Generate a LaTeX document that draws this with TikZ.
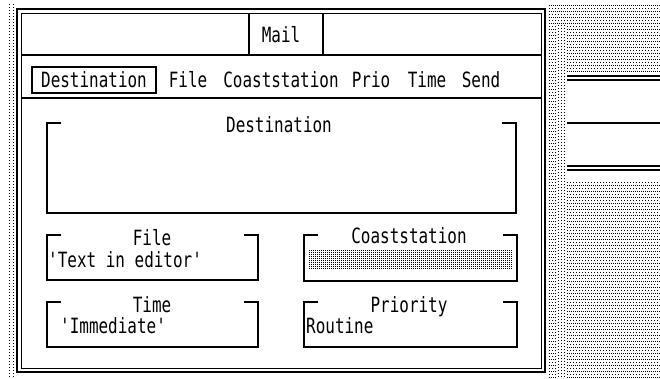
\documentclass[tikz,border=0pt]{standalone}
\usepackage{fontspec}
\newfontfamily\gemfont[FakeStretch=0.76]{DejaVu Sans Mono}

\tikzset{
  guitext/.style={font=\gemfont\fontsize{21}{21}\selectfont, inner sep=0pt, anchor=base},
  boxline/.style={line width=1.2pt},
  deskdense/.style={line width=1pt, dash pattern=on 1pt off 1pt},
  desksparse/.style={line width=1pt, dash pattern=on 1pt off 2pt},
}

% frame with open top corners, title sits in the gap
\newcommand{\groupbox}[4]{%
  \draw[boxline] ({#1+14},#2) -- (#1,#2) -- (#1,#4) -- (#3,#4) -- (#3,#2) -- ({#3-14},#2);}

\begin{document}
\begin{tikzpicture}[x=1pt,y=-1pt]
  \useasboundingbox (0,0) rectangle (660,378);

  % desktop
  \foreach \y in {5,11,...,377}{
    \draw[deskdense] (549,\y) -- (660,\y);
    \draw[desksparse] (549,\y+3) -- (660,\y+3);
  }
  \fill[white] (567,74) rectangle (660,182);
  \fill[white] (556,24) rectangle (567,378);
  \foreach \x in {558,561,564}
    \draw[desksparse] (\x,25) -- (\x,378);
  \foreach \x in {9,13}
    \draw[desksparse] (\x,4) -- (\x,378);
  \draw[boxline] (567,76) -- (660,76) (567,80) -- (660,80);
  \draw[boxline] (567,123) -- (660,123);
  \draw[boxline] (567,166) -- (660,166) (567,170) -- (660,170);

  % window frame
  \draw[line width=2pt] (17,9) rectangle (545,372);
  \draw[line width=1pt] (21,13) rectangle (541,368);
  \draw[boxline] (21,55) -- (541,55);
  \draw[boxline] (249,13) -- (249,55) (323,13) -- (323,55);
  \node[guitext] (title) at (281,42) {Mail};

  % menu bar
  \draw[boxline] (21,98) -- (541,98);
  \draw[line width=2pt] (32,67) rectangle (156,93);
  \node[guitext] (mdest) at (94,87) {Destination};
  \node[guitext] (mfile) at (188,87) {File};
  \node[guitext] (mcoast) at (281,87) {Coaststation};
  \node[guitext] (mprio) at (371,87) {Prio};
  \node[guitext] (mtime) at (427,87) {Time};
  \node[guitext] (msend) at (481,87) {Send};

  % fields
  \groupbox{47}{123}{516}{213}
  \node[guitext] (dest) at (279,132) {Destination};

  \groupbox{47}{235}{258}{280}
  \node[guitext] (file) at (152,245) {File};
  \node[guitext, anchor=base west] (fileval) at (48,267) {'Text in editor'};

  \groupbox{304}{235}{517}{281}
  \node[guitext] (coast) at (409,243) {Coaststation};
  \foreach \y in {250,252,...,268}
    \draw[deskdense] (309,\y) -- (512,\y);

  \groupbox{47}{302}{258}{347}
  \node[guitext] (time) at (152,312) {Time};
  \node[guitext, anchor=base west] (timeval) at (60,333) {'Immediate'};

  \groupbox{304}{302}{517}{347}
  \node[guitext] (prio) at (409,312) {Priority};
  \node[guitext, anchor=base west] (prioval) at (306,333) {Routine};
\end{tikzpicture}
\end{document}
